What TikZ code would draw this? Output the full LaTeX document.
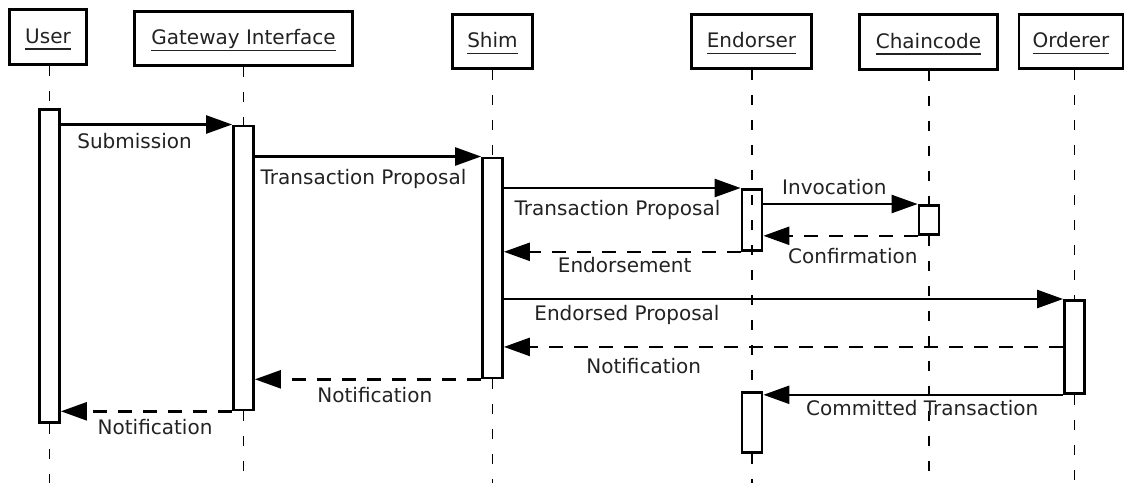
\documentclass[tikz,border=0pt]{standalone}
\usepackage{fontspec}
\setmainfont{DejaVu Sans}
\usepackage{tikz}
\usetikzlibrary{arrows.meta}
\definecolor{ink}{RGB}{34, 34, 34}
\newcommand{\ulname}[1]{\leavevmode\setbox0=\hbox{#1}\rlap{\rule[-6.8pt]{\wd0}{1.4pt}}\box0}

\begin{document}
\begin{tikzpicture}[x=1pt, y=-1pt,
    >={Triangle[length=26pt,width=18pt]},
    head/.style={draw, line width=2.8pt, inner sep=0pt, minimum height=55pt,
        text height=15pt, text depth=3pt, text=ink, font=\fontsize{20}{24}\selectfont},
    act/.style={draw, fill=white, line width=2.8pt, inner sep=0pt, minimum width=20pt, anchor=north},
    life/.style={line width=1.4pt, dash pattern=on 10pt off 15pt},
    msg/.style={->, line width=2.5pt},
    reply/.style={->, line width=2.5pt, dash pattern=on 14pt off 11pt},
    lbl/.style={anchor=base, inner sep=0pt, text=ink, font=\fontsize{20}{24}\selectfont}]
    \useasboundingbox (0,0) rectangle (1125,483);

    % Participants
    \node[head, minimum width=77pt] (userH) at (48,37) {\ulname{User}};
    \node[head, minimum width=218pt, minimum height=54pt] (gateH) at (243.5,38.5) {\ulname{Gateway Interface}};
    \node[head, minimum width=80pt, minimum height=54pt] (shimH) at (492.5,41.5) {\ulname{Shim}};
    \node[head, minimum width=120pt, minimum height=54pt] (endH) at (751.5,41.5) {\ulname{Endorser}};
    \node[head, minimum width=138pt] (ccH) at (928.5,42) {\ulname{Chaincode}};
    \node[head, minimum width=104pt, minimum height=54pt] (ordH) at (1071,41.5) {\ulname{Orderer}};
    \coordinate (bot) at (0,483);

    % Activation bars
    \node[act, minimum height=313pt] (userA) at (49.5,108) {};
    \node[act, minimum height=284pt] (gateA) at (243.5,124.5) {};
    \node[act, minimum height=220pt] (shimA) at (492.5,156.5) {};
    \node[act, fill=none, minimum height=61pt] (endA) at (752,188) {};
    \node[act, minimum height=29pt] (ccA) at (929,204) {};
    \node[act, minimum height=93pt] (ordA) at (1074.5,299) {};
    \node[act, minimum height=60pt] (endB) at (752,391) {};

    % Lifelines
    \draw[life] (userH.south -| userA) -- (userA.north);
    \draw[life] (userA.south) -- (userA |- bot);
    \draw[life] (gateH.south -| gateA) -- (gateA.north);
    \draw[life] (gateA.south) -- (gateA |- bot);
    \draw[life] (shimH.south -| shimA) -- (shimA.north);
    \draw[life] (shimA.south) -- (shimA |- bot);
    \draw[life] (endH.south -| endA) -- (endB.north);
    \draw[life] (endB.south) -- (endB |- bot);
    \draw[life] (ccH.south -| ccA) -- (ccA.north);
    \draw[life] (ccA.south) -- (ccA |- bot);
    \draw[life] (ordH.south -| ordA) -- (ordA.north);
    \draw[life] (ordA.south) -- (ordA |- bot);

    % Requests
    \draw[msg] (userA.east |- gateA.north) -- (gateA.north west)
        node[lbl, pos=0.43, yshift=-24pt] {Submission};
    \draw[msg] (gateA.east |- shimA.north) -- (shimA.north west)
        node[lbl, pos=0.48, yshift=-28pt] {Transaction Proposal};
    \draw[msg] (shimA.east |- endA.north) -- (endA.north west)
        node[lbl, pos=0.48, yshift=-27pt] {Transaction Proposal};
    \draw[msg] (endA.east |- ccA.north) -- (ccA.north west)
        node[lbl, pos=0.46, yshift=10pt] {Invocation};
    \draw[msg] (shimA.east |- ordA.north) -- (ordA.north west)
        node[lbl, pos=0.22, yshift=-21pt] {Endorsed Proposal};
    \draw[msg] (ordA.south west) -- (endB.east |- ordA.south)
        node[lbl, pos=0.47, yshift=-21pt] {Committed Transaction};

    % Replies
    \draw[reply] (ccA.south west) -- (endA.east |- ccA.south)
        node[lbl, pos=0.42, yshift=-28pt] {Confirmation};
    \draw[reply] (endA.south west) -- (shimA.east |- endA.south)
        node[lbl, pos=0.49, yshift=-21pt] {Endorsement};
    \draw[reply] (ordA.west) -- (shimA.east |- ordA.west)
        node[lbl, pos=0.75, yshift=-27pt] {Notification};
    \draw[reply] (shimA.south west) -- (gateA.east |- shimA.south)
        node[lbl, pos=0.47, yshift=-23.5pt] {Notification};
    \draw[reply] (gateA.south west) -- (userA.east |- gateA.south)
        node[lbl, pos=0.45, yshift=-23.5pt] {Notification};
\end{tikzpicture}
\end{document}
